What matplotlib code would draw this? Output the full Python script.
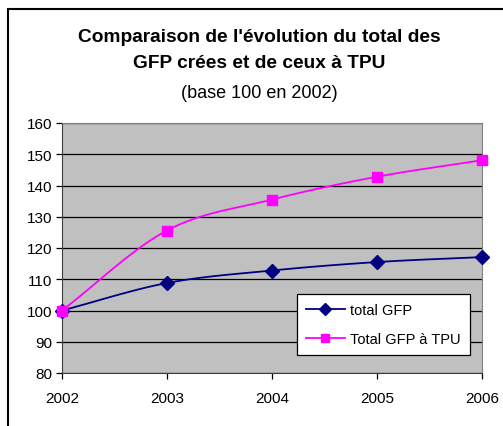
import matplotlib
matplotlib.use("Agg")
import matplotlib.pyplot as plt
import matplotlib.patches as mpatches
import numpy as np

plt.rcParams['font.family'] = ['Liberation Sans', 'DejaVu Sans']

years = [2002, 2003, 2004, 2005, 2006]
total_gfp = [100, 108.8, 112.8, 115.5, 117.1]
total_gfp_tpu = [100, 125.6, 135.5, 142.8, 148.1]

def smooth(xs, ys, n=30):
    # Catmull-Rom path through the points, like Excel "smoothed line"
    xs = np.asarray(xs, float); ys = np.asarray(ys, float)
    px = np.concatenate([[2 * xs[0] - xs[1]], xs, [2 * xs[-1] - xs[-2]]])
    py = np.concatenate([[2 * ys[0] - ys[1]], ys, [2 * ys[-1] - ys[-2]]])
    ox, oy = [], []
    t = np.linspace(0, 1, n)
    for i in range(1, len(px) - 2):
        for p, o in ((px, ox), (py, oy)):
            p0, p1, p2, p3 = p[i - 1], p[i], p[i + 1], p[i + 2]
            o.extend(0.5 * (2 * p1 + (-p0 + p2) * t + (2 * p0 - 5 * p1 + 4 * p2 - p3) * t**2
                            + (-p0 + 3 * p1 - 3 * p2 + p3) * t**3))
    return ox, oy

fig = plt.figure(figsize=(5.03, 4.27), dpi=100)
fig.patches.append(mpatches.Rectangle((8 / 503, -0.1), 1.2, 1 - 10 / 427 + 0.1,
                                      transform=fig.transFigure, fill=False,
                                      edgecolor="black", linewidth=1.5))

ax = fig.add_axes([62 / 503, 1 - 374 / 427, 420 / 503, 250 / 427])
ax.set_facecolor("#c0c0c0")

navy = "#000080"
magenta = "#ff00ff"
sx, sy = smooth(years, total_gfp)
ax.plot(sx, sy, color=navy, linewidth=1.3)
ax.plot(years, total_gfp, linestyle="none", marker="D", markersize=7,
        color=navy, clip_on=False, zorder=4)
sx, sy = smooth(years, total_gfp_tpu)
ax.plot(sx, sy, color=magenta, linewidth=1.3)
ax.plot(years, total_gfp_tpu, linestyle="none", marker="s", markersize=7,
        color=magenta, clip_on=False, zorder=4)

ax.set_xlim(2002, 2006)
ax.set_ylim(80, 160)
ax.set_xticks(years)
ax.set_yticks(range(80, 161, 10))
ax.grid(axis="y", color="black", linewidth=0.9)
ax.set_axisbelow(True)
ax.tick_params(labelsize=11, length=4, width=0.9, colors="black")
ax.tick_params(axis="x", pad=9)
ax.tick_params(axis="y", pad=3)
for s in ("top", "right"):
    ax.spines[s].set_color("#808080")
for s in ("left", "bottom"):
    ax.spines[s].set_color("#404040")

h1 = plt.Line2D([], [], color=navy, marker="D", markersize=6, linewidth=1.3)
h2 = plt.Line2D([], [], color=magenta, marker="s", markersize=6, linewidth=1.3)
leg = ax.legend([h1, h2], ["total GFP", "Total GFP à TPU"], loc="lower left",
                bbox_to_anchor=(235 / 420, 18 / 250), borderaxespad=0,
                fontsize=10.5, frameon=True,
                fancybox=False, framealpha=1, edgecolor="black",
                handlelength=2.7, handletextpad=0.35, borderpad=0.6, labelspacing=1.05)
leg.get_frame().set_linewidth(0.9)

cx = 259 / 503
fig.text(cx, 1 - 37 / 427, "Comparaison de l'évolution du total des",
         ha="center", va="center", fontsize=13.8, fontweight="bold")
fig.text(cx, 1 - 64 / 427, "GFP crées et de ceux à TPU",
         ha="center", va="center", fontsize=13.8, fontweight="bold")
fig.text(cx, 1 - 94 / 427, "(base 100 en 2002)",
         ha="center", va="center", fontsize=13)

fig.savefig("out.png", dpi=100)
